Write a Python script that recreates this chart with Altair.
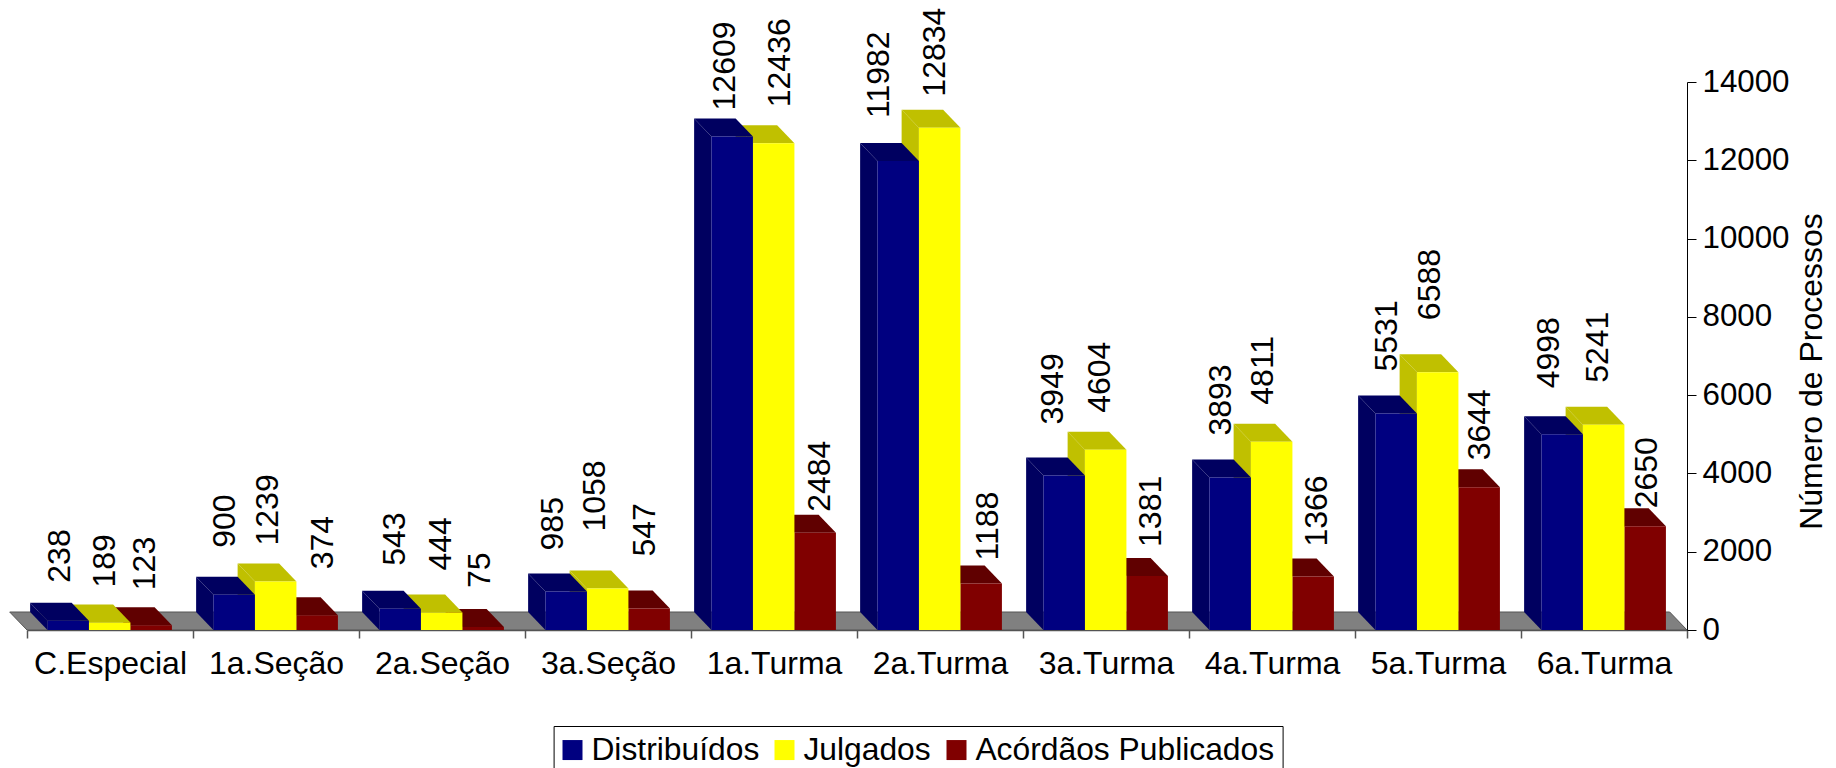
import altair as alt
import pandas as pd

categories = ["C.Especial", "1a.Seção", "2a.Seção", "3a.Seção", "1a.Turma",
              "2a.Turma", "3a.Turma", "4a.Turma", "5a.Turma", "6a.Turma"]
distribuidos = [238, 900, 543, 985, 12609, 11982, 3949, 3893, 5531, 4998]
julgados = [189, 1239, 444, 1058, 12436, 12834, 4604, 4811, 6588, 5241]
acordaos = [123, 374, 75, 547, 2484, 1188, 1381, 1366, 3644, 2650]
y_ticks = [0, 2000, 4000, 6000, 8000, 10000, 12000, 14000]

names = ["Distribuídos", "Julgados", "Acórdãos Publicados"]
series_values = [distribuidos, julgados, acordaos]
front_colors = ["#000080", "#FFFF00", "#800000"]
shade_colors = ["#000060", "#C0C000", "#600000"]

# hand placement of the value labels, as in the source chart (nudge along x, gap above the bar)
label_shift = [
    [0, -1, 3, -5, 1, -11, -3, -1, -1, -5],
    [4, 1, 8, -4, 15, 3.5, 3, 0, 1, 2.5],
    [2, 14, 5, 4, 13, 15, 12, 12, 9, 10],
]
label_gap = [
    [20, 29, 25, 23, 8, 25, 33, 24, 24, 28],
    [17, 18, 24, 39, 18, 13, 19, 19, 34, 24],
    [17, 28, 21, 34, 3, 5, 11, 12, 9, 0],
]

FONT = "Liberation Sans"
FS = 32
W, H = 1660, 548
YMAX = 14000
BAR = 0.25          # bar width in category units
START = 0.123       # first bar start inside category
DX = 17.3 / 166     # depth in category units
DY = 18 / H * YMAX  # depth in value units

x_scale = alt.Scale(domain=[0, 10], nice=False, zero=False)
y_scale = alt.Scale(domain=[0, YMAX], nice=False, zero=False)
X = alt.X("x:Q", scale=x_scale)
Y = alt.Y("y:Q", scale=y_scale)


def polys(kind, s):
    rows = []
    for i, v in enumerate(series_values[s]):
        xl = i + START + s * BAR
        xr = xl + BAR
        if kind == "side":
            pts = [(xl - DX, DY, v + DY), (xl, 0, v)]
        else:
            pts = [(xl - DX, v + DY, v + DY), (xl, v, v + DY),
                   (xr - DX, v, v + DY), (xr, v, v)]
        for x, y1, y2 in pts:
            rows.append({"g": i, "x": x, "y": y1, "y2": y2})
    return pd.DataFrame(rows)


def area_layer(df, color):
    return alt.Chart(df).mark_area(color=color, interpolate="linear", clip=False).encode(
        x=X, y=Y, y2="y2:Q", detail="g:N",
    )


floor_df = pd.DataFrame([
    {"x": -DX, "y": DY, "y2": DY},
    {"x": 0, "y": 0, "y2": DY},
    {"x": 10 - DX, "y": 0, "y2": DY},
    {"x": 10, "y": 0, "y2": 0},
])
floor = alt.Chart(floor_df).mark_area(color="#808080", stroke="#555555", strokeWidth=1).encode(
    x=X, y=Y, y2="y2:Q",
)

# axes
idx = list(range(11))
label_expr = "[" + ",".join(f"'{c}'" for c in categories) + "][datum.value] || ''"
axes_df = pd.DataFrame({"x": [0, 10], "y": [0, 0]})
x_axis = alt.Axis(values=idx, labelExpr=label_expr, labelOffset=83, labelFont=FONT, labelFontSize=FS,
                  labelColor="black", labelAngle=0, labelAlign="center", labelPadding=10,
                  labelOverlap=False, labelBound=False, labelFlush=False, tickSize=8, tickColor="#555555",
                  domainColor="#555555", domainWidth=1.5, tickWidth=1.5, grid=False, title=None)
y_axis = alt.Axis(orient="right", values=y_ticks, labelFont=FONT, labelFontSize=31.3, labelColor="black",
                  labelPadding=6, tickSize=9, tickColor="black", domainColor="black", grid=False,
                  labelOverlap=False, labelBound=False, labelFlush=False, format="d",
                  title="Número de Processos", titleFont=FONT, titleFontSize=32, titleFontWeight="normal",
                  titleColor="black", titleAngle=270, titleBaseline="alphabetic", titleAlign="center",
                  titleX=134, titleY=289)
axes = alt.Chart(axes_df).mark_point(opacity=0).encode(
    x=alt.X("x:Q", scale=x_scale, axis=x_axis),
    y=alt.Y("y:Q", scale=y_scale, axis=y_axis),
)

# bars, drawn right-most first so left bars hide the side of their neighbour
layers = [axes, floor]
for s in [2, 1, 0]:
    layers.append(area_layer(polys("side", s), shade_colors[s]))
    layers.append(area_layer(polys("top", s), shade_colors[s]))
    fdf = pd.DataFrame({
        "x": [i + START + s * BAR for i in range(10)],
        "x2": [i + START + (s + 1) * BAR for i in range(10)],
        "y": series_values[s],
        "serie": names[s],
    })
    layers.append(alt.Chart(fdf).mark_bar(stroke=None).encode(
        x=X, x2="x2:Q", y=Y, y2=alt.datum(0),
        color=alt.Color("serie:N", scale=alt.Scale(domain=names, range=front_colors),
                        legend=alt.Legend(orient="none", legendX=526.6, legendY=644, direction="horizontal",
                                          columns=3, title=None, symbolType="square", symbolSize=400,
                                          symbolStrokeWidth=0, symbolOffset=-5, labelFont=FONT, labelFontSize=31.8,
                                          labelColor="black", labelLimit=500, labelOffset=3,
                                          columnPadding=14, padding=8, strokeColor="black",
                                          fillColor="white")),
    ))

lab_rows = []
for s in range(3):
    for i, v in enumerate(series_values[s]):
        lab_rows.append({
            "x": i + START + s * BAR + BAR / 2 - DX / 2 + label_shift[s][i] / (W / 10),
            "y": v + DY + label_gap[s][i] / H * YMAX,
            "t": str(v),
        })
labels = alt.Chart(pd.DataFrame(lab_rows)).mark_text(
    angle=270, align="left", baseline="middle", font=FONT, fontSize=FS, color="black", clip=False
).encode(x=X, y=Y, text="t:N")

chart = alt.layer(*layers, labels).properties(
    width=W, height=H,
    padding={"left": 19, "top": 74, "right": 141, "bottom": 138},
    autosize=alt.AutoSizeParams(type="none"),
    background="white",
).configure_view(stroke=None)

chart.save("out.html", embed_options={"renderer": "svg", "actions": False})
